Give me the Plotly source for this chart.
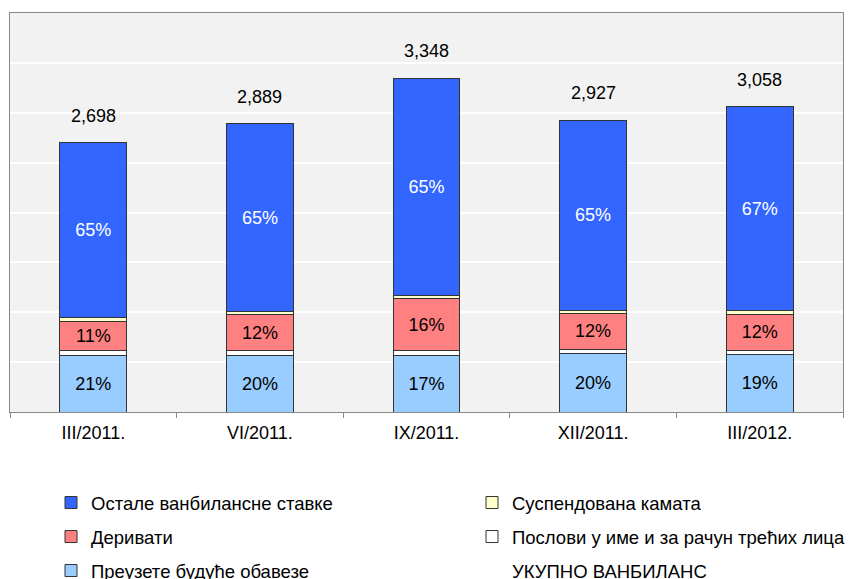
import plotly.graph_objects as go

categories = ["III/2011.", "VI/2011.", "IX/2011.", "XII/2011.", "III/2012."]
totals = [2698, 2889, 3348, 2927, 3058]
preuzete = [567, 567, 570, 585, 575]
poslovi = [46, 50, 43, 43, 46]
derivati = [297, 356, 527, 361, 360]
suspend = [40, 30, 30, 33, 37]
ostale = [1748, 1886, 2178, 1905, 2040]

pct_preuzete = ["21%", "20%", "17%", "20%", "19%"]
pct_derivati = ["11%", "12%", "16%", "12%", "12%"]
pct_ostale = ["65%", "65%", "65%", "65%", "67%"]
total_labels = ["2,698", "2,889", "3,348", "2,927", "3,058"]

FONT = "Liberation Sans, Arial, sans-serif"
OUTLINE = dict(color="#333333", width=1)
W, H = 849, 579

fig = go.Figure()

# total series (legend entry only, no visible mark)
fig.add_trace(go.Scatter(
    x=categories, y=totals, name="УКУПНО ВАНБИЛАНС", mode="lines",
    line=dict(color="rgba(0,0,0,0)", width=0), legend="legend6",
    hoverinfo="skip"))

def add_bar(name, vals, color, text, tcolor, legend):
    fig.add_trace(go.Bar(
        x=categories, y=vals, name=name, marker=dict(color=color, line=OUTLINE),
        text=text, textposition="inside" if text else "none",
        insidetextanchor="middle", textangle=0,
        textfont=dict(color=tcolor, size=18, family=FONT),
        legend=legend))

add_bar("Преузете будуће обавезе", preuzete, "#99CCFF", pct_preuzete, "black", "legend5")
add_bar("Послови у име и за рачун трећих лица", poslovi, "#FFFFFF", None, "black", "legend4")
add_bar("Деривати", derivati, "#FF8080", pct_derivati, "black", "legend3")
add_bar("Суспендована камата", suspend, "#FFFFCC", None, "black", "legend2")
add_bar("Остале ванбилансне ставке", ostale, "#3366FF", pct_ostale, "white", "legend")

annotations = [dict(x=c, y=t, text=lbl, showarrow=False, yshift=27,
                    font=dict(size=18, color="black", family=FONT))
               for c, t, lbl in zip(categories, totals, total_labels)]

def legend_cfg(text_x, text_y):
    return dict(orientation="h", xref="container", yref="container",
                x=(text_x - 40) / W, y=1 - text_y / H, xanchor="left", yanchor="middle",
                itemwidth=30, bgcolor="rgba(0,0,0,0)",
                font=dict(size=18.5, color="black", family=FONT))

fig.update_layout(
    width=W, height=H,
    margin=dict(l=10, r=6, t=13, b=167),
    paper_bgcolor="white", plot_bgcolor="#F2F2F2",
    barmode="stack", bargap=0.6,
    font=dict(family=FONT, color="black"),
    annotations=annotations,
    showlegend=True,
    legend=legend_cfg(91, 503),
    legend2=legend_cfg(512, 503),
    legend3=legend_cfg(91, 537),
    legend4=legend_cfg(512, 537),
    legend5=legend_cfg(91, 571),
    legend6=legend_cfg(512, 571),
    xaxis=dict(showline=True, linecolor="#888888", linewidth=1, mirror=True,
               ticks="outside", tickson="boundaries", ticklen=5, tickcolor="#888888",
               tickfont=dict(size=18, color="black", family=FONT),
               ticklabelstandoff=4, showgrid=False),
    yaxis=dict(range=[0, 4000], dtick=500, showticklabels=False,
               showline=True, linecolor="#888888", linewidth=1, mirror=True,
               gridcolor="white", gridwidth=2, zeroline=False, ticks=""),
)

fig.write_html("out.html", config={"displayModeBar": False},
               post_script="document.body.style.margin='0';")
